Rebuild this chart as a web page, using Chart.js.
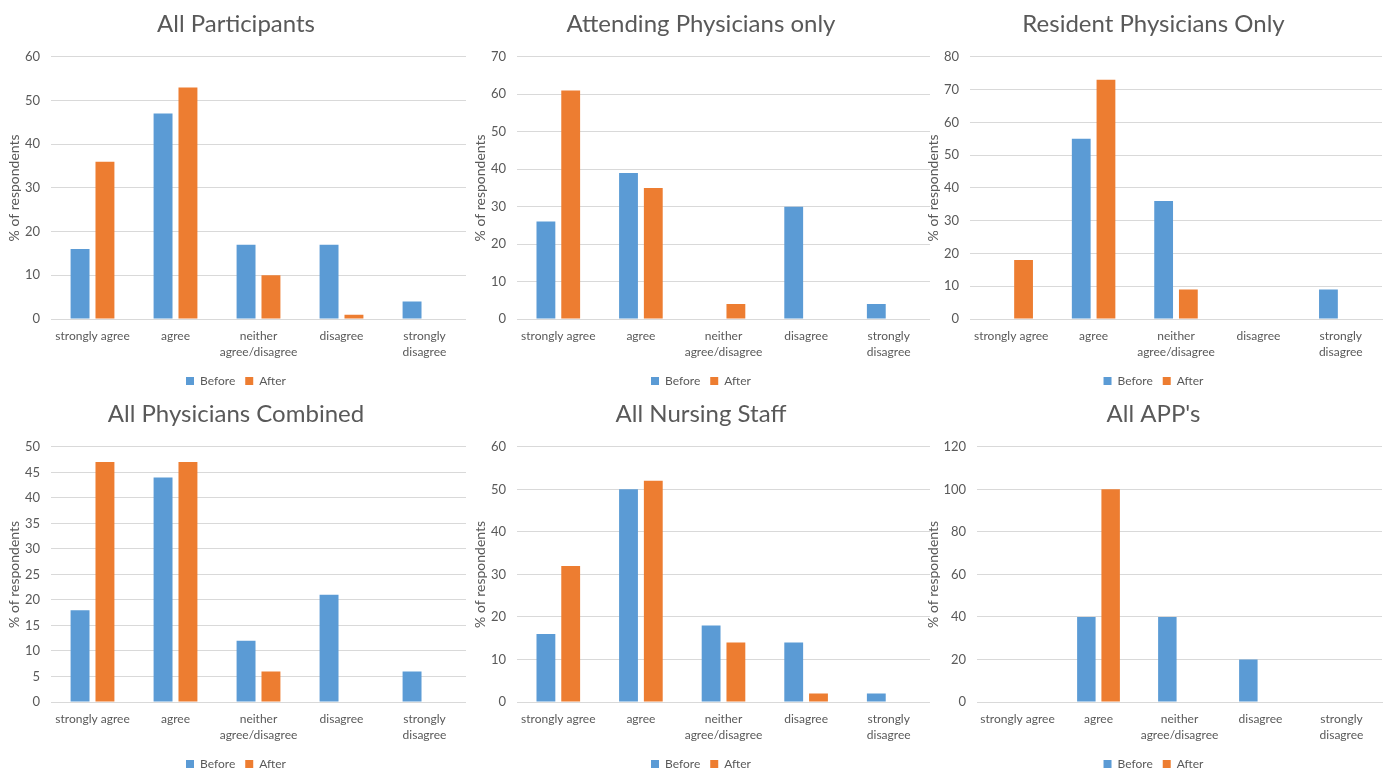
<!DOCTYPE html>
<html>
<head>
<meta charset="utf-8">
<script src="https://cdn.jsdelivr.net/npm/chart.js@4.4.1/dist/chart.umd.min.js"></script>
<style>
  html, body { margin: 0; padding: 0; background: #ffffff; }
  body { width: 1386px; height: 774px; position: relative; overflow: hidden; }
  .panel { position: absolute; }
  .panel canvas { display: block; }
</style>
</head>
<body>
<div id="grid"></div>
<script>
// Survey response categories (x axis)
const categories = [
  'strongly agree',
  'agree',
  ['neither', 'agree/disagree'],
  'disagree',
  ['strongly', 'disagree']
];

// Percentage of respondents per group, before and after
const allBefore        = [16, 47, 17, 17, 4];
const allAfter         = [36, 53, 10, 1, 0];
const attendingBefore  = [26, 39, 0, 30, 4];
const attendingAfter   = [61, 35, 4, 0, 0];
const residentBefore   = [0, 55, 36, 0, 9];
const residentAfter    = [18, 73, 9, 0, 0];
const physiciansBefore = [18, 44, 12, 21, 6];
const physiciansAfter  = [47, 47, 6, 0, 0];
const nursingBefore    = [16, 50, 18, 14, 2];
const nursingAfter     = [32, 52, 14, 2, 0];
const appBefore        = [0, 40, 40, 20, 0];
const appAfter         = [0, 100, 0, 0, 0];

// Panel titles and y-axis ranges
const titles   = ['All Participants', 'Attending Physicians only', 'Resident Physicians Only',
                  'All Physicians Combined', 'All Nursing Staff', "All APP's"];
const yMax     = [60, 70, 80, 50, 60, 120];
const yStep    = [10, 10, 10, 5, 10, 20];
const beforeSets = [allBefore, attendingBefore, residentBefore, physiciansBefore, nursingBefore, appBefore];
const afterSets  = [allAfter, attendingAfter, residentAfter, physiciansAfter, nursingAfter, appAfter];

// Panel geometry
const colLeft   = [0, 462, 924];
const colWidth  = [466, 468, 462];
const colPadR   = [0, 0, 4];
const rowTop    = [0, 390];
const rowHeight = [397, 390];
const plotLeft  = [51, 55, 46, 51, 55, 53];
const padLeft   = [6, 10, 1, 6, 10, 1];

const BLUE = '#5B9BD5';
const ORANGE = '#ED7D31';
const TEXT = '#595959';
const GRID = '#D9D9D9';
const FONT = 'Lato, "Open Sans", sans-serif';

const host = document.getElementById('grid');

titles.forEach((title, i) => {
  const col = i % 3, row = Math.floor(i / 3);
  const div = document.createElement('div');
  div.className = 'panel';
  div.style.left = colLeft[col] + 'px';
  div.style.top = rowTop[row] + 'px';
  const cv = document.createElement('canvas');
  cv.width = colWidth[col];
  cv.height = rowHeight[row];
  div.appendChild(cv);
  host.appendChild(div);

  new Chart(cv, {
    type: 'bar',
    data: {
      labels: categories,
      datasets: [
        { label: 'Before', data: beforeSets[i], backgroundColor: BLUE,
          categoryPercentage: 0.6, barPercentage: 0.76 },
        { label: 'After', data: afterSets[i], backgroundColor: ORANGE,
          categoryPercentage: 0.6, barPercentage: 0.76 }
      ]
    },
    options: {
      responsive: false,
      animation: false,
      devicePixelRatio: 1,
      layout: { padding: { left: padLeft[i], right: colPadR[col], top: 0, bottom: 0 } },
      plugins: {
        title: {
          display: true,
          text: title,
          color: TEXT,
          font: { family: FONT, size: 24, weight: 'normal' },
          padding: { top: 10, bottom: 18 }
        },
        legend: {
          position: 'bottom',
          labels: {
            color: TEXT,
            boxWidth: 8,
            boxHeight: 8,
            padding: 10,
            font: { family: FONT, size: 12 }
          }
        },
        tooltip: { enabled: false }
      },
      scales: {
        x: {
          grid: { display: false, drawTicks: false },
          border: { display: true, color: GRID, width: 1 },
          ticks: {
            color: TEXT,
            padding: 9,
            maxRotation: 0,
            autoSkip: false,
            font: { family: FONT, size: 12, lineHeight: 1.35 }
          },
          afterFit: (scale) => { scale.height = 46; }
        },
        y: {
          min: 0,
          max: yMax[i],
          grid: { color: GRID, lineWidth: 1, drawTicks: false },
          border: { display: false },
          ticks: {
            stepSize: yStep[i],
            color: TEXT,
            padding: 11,
            font: { family: FONT, size: 13 }
          },
          title: {
            display: true,
            text: '% of respondents',
            color: TEXT,
            padding: { top: 0, bottom: 0 },
            font: { family: FONT, size: 14 }
          },
          afterFit: (scale) => { scale.width = plotLeft[i] - padLeft[i]; }
        }
      }
    }
  });
});
</script>
</body>
</html>
